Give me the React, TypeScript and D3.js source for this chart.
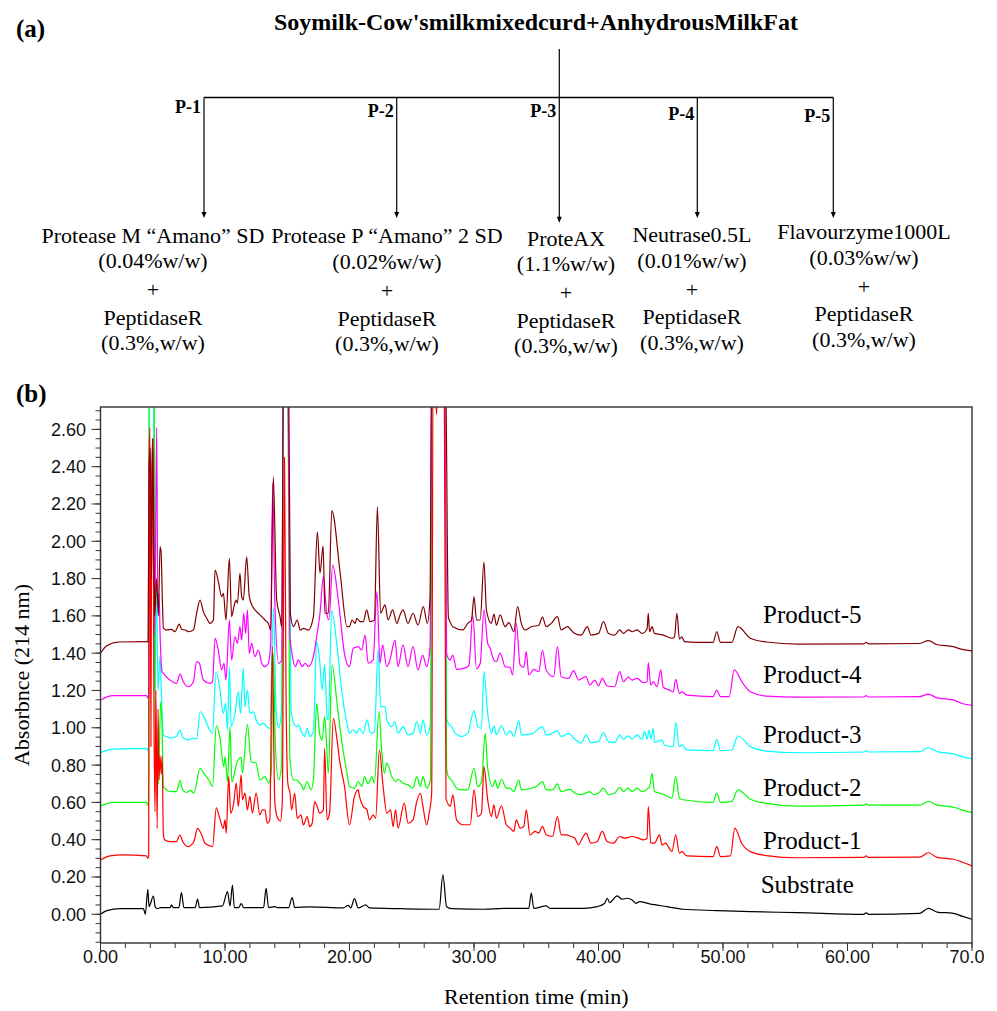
import React from 'react';
import * as d3 from 'd3';

type Pt = [number, number];

// ---- Chromatogram data (retention time in min, absorbance at 214 nm) ----
const substrate: Pt[] = [
  [0, 0.0], [0.5, 0.02], [1.6, 0.03], [3.45, 0.03], [3.6, 0.0], [3.8, 0.134], [3.9, 0.041], [4.0, 0.055], [4.25, 0.098],
  [4.4, 0.038], [4.6, 0.03], [4.8, 0.036], [5.6, 0.036], [5.7, 0.05], [5.85, 0.036], [6.3, 0.036], [6.5, 0.116], [6.7, 0.036],
  [7.6, 0.036], [7.8, 0.081], [7.95, 0.036], [9.8, 0.045], [10.2, 0.122], [10.4, 0.045], [10.6, 0.157], [10.75, 0.036],
  [11.1, 0.036], [11.3, 0.057], [11.5, 0.036], [13.1, 0.036], [13.3, 0.14], [13.5, 0.036], [14.0, 0.041], [14.2, 0.036],
  [15.1, 0.036], [15.4, 0.09], [15.6, 0.036], [16.8, 0.04], [19.5, 0.034], [19.9, 0.048], [20.1, 0.034], [20.4, 0.084],
  [20.7, 0.034], [21.3, 0.05], [21.6, 0.034], [24.1, 0.03], [27.2, 0.027], [27.5, 0.211], [27.8, 0.04], [28.2, 0.03],
  [30.8, 0.027], [32.4, 0.032], [34.4, 0.032], [34.6, 0.113], [34.8, 0.032], [35.8, 0.045], [36.1, 0.032], [38.8, 0.032],
  [39.9, 0.041], [40.5, 0.059], [40.7, 0.086], [40.9, 0.063], [41.5, 0.099], [41.9, 0.081], [42.3, 0.086], [42.7, 0.077],
  [43.0, 0.059], [43.3, 0.068], [44.1, 0.056], [45.5, 0.041], [46.8, 0.027], [49.5, 0.02], [52.2, 0.014], [56, 0.009],
  [61.3, 0.0], [61.5, 0.008], [61.7, 0.0], [65.8, 0.005], [66.5, 0.032], [67.2, 0.012], [68.5, 0.005], [69.2, -0.01], [70, -0.027],
];

const product1: Pt[] = [
  [0, 0.291], [0.75, 0.313], [1.8, 0.318], [3.7, 0.313], [3.8, 0.3], [3.87, 0.31], [3.92, 2.5], [3.97, 2.61], [4.05, 0.9],
  [4.12, 2.4], [4.2, 2.55], [4.3, 1.0], [4.38, 0.55], [4.45, 1.2], [4.55, 0.46], [4.62, 1.1], [4.7, 0.72], [4.78, 0.85],
  [4.88, 0.75], [4.95, 0.85], [5.05, 0.43], [5.15, 0.4], [5.58, 0.39], [6.1, 0.39], [6.38, 0.425], [6.6, 0.39], [7.05, 0.363],
  [7.3, 0.372], [7.5, 0.39], [7.8, 0.461], [8.07, 0.434], [8.4, 0.381], [9.0, 0.363], [9.3, 0.57], [9.54, 0.524], [9.86, 0.461],
  [10.0, 0.506], [10.1, 0.434], [10.3, 0.739], [10.45, 0.542], [10.7, 0.596], [10.9, 0.703], [11.07, 0.578], [11.3, 0.748],
  [11.4, 0.614], [11.6, 0.65], [11.8, 0.56], [12.0, 0.632], [12.2, 0.542], [12.5, 0.65], [12.8, 0.533], [13.0, 0.56],
  [13.2, 0.56], [13.4, 0.488], [13.6, 0.506], [13.8, 1.435], [14.0, 0.6], [14.2, 0.52], [14.45, 0.5], [14.6, 0.6],
  [14.78, 2.45], [14.9, 1.2], [15.05, 0.7], [15.22, 0.649], [15.35, 0.56], [15.6, 0.649], [15.8, 0.515], [16.1, 0.533],
  [16.3, 0.479], [16.6, 0.524], [16.8, 0.47], [17.0, 0.488], [17.2, 0.604], [17.4, 0.578], [17.6, 0.542], [17.9, 0.56],
  [18.0, 0.89], [18.2, 0.506], [18.4, 0.542], [18.7, 1.05], [19.0, 0.935], [19.2, 0.828], [19.6, 0.685], [20.0, 0.479],
  [20.4, 0.632], [20.7, 0.667], [20.8, 0.632], [21.1, 0.578], [21.4, 0.56], [21.6, 0.506], [21.9, 0.533], [22.1, 0.515],
  [22.4, 0.881], [22.7, 0.685], [23.0, 0.542], [23.3, 0.56], [23.5, 0.47], [23.7, 0.56], [23.9, 0.462], [24.4, 0.596],
  [24.7, 0.488], [25.1, 0.506], [25.4, 0.604], [25.7, 0.649], [25.9, 0.578], [26.2, 0.479], [26.4, 0.542], [26.6, 0.649],
  [26.72, 3.0], [27.0, 2.68], [27.1, 3.0], [27.6, 3.0], [27.75, 0.62], [28.1, 0.58], [28.3, 0.64], [28.6, 0.506],
  [29.1, 0.48], [29.7, 0.48], [30.0, 0.667], [30.3, 0.524], [30.6, 0.542], [30.8, 0.792], [31.1, 0.613], [31.4, 0.524],
  [31.6, 0.587], [31.8, 0.515], [32.2, 0.581], [32.6, 0.48], [32.9, 0.462], [33.2, 0.444], [33.4, 0.506], [33.7, 0.462],
  [34.0, 0.471], [34.2, 0.56], [34.5, 0.426], [34.9, 0.444], [35.2, 0.435], [35.5, 0.471], [35.8, 0.426], [36.3, 0.417],
  [36.7, 0.524], [37.0, 0.426], [37.4, 0.426], [37.8, 0.417], [38.1, 0.408], [38.4, 0.372], [38.7, 0.408], [39.0, 0.435],
  [39.4, 0.381], [39.9, 0.39], [40.3, 0.444], [40.7, 0.39], [41.2, 0.381], [41.7, 0.417], [42.1, 0.408], [42.7, 0.417],
  [43.2, 0.408], [43.6, 0.399], [43.9, 0.408], [44.0, 0.578], [44.2, 0.381], [44.5, 0.381], [44.9, 0.426], [45.1, 0.372],
  [45.4, 0.381], [45.6, 0.363], [45.9, 0.336], [46.2, 0.426], [46.5, 0.328], [46.7, 0.336], [47.1, 0.313], [49.2, 0.309],
  [49.5, 0.363], [49.8, 0.309], [50.6, 0.313], [50.95, 0.462], [51.5, 0.381], [52.2, 0.336], [53.5, 0.315], [56, 0.303],
  [61.3, 0.305], [61.5, 0.313], [61.7, 0.305], [65.8, 0.306], [66.5, 0.33], [67.2, 0.305], [68.5, 0.295], [69.2, 0.28], [70, 0.259],
];

const product2: Pt[] = [
  [0, 0.581], [1.0, 0.6], [3.7, 0.6], [3.8, 0.585], [3.87, 0.6], [3.92, 3.0], [4.3, 3.0], [4.4, 1.0], [4.5, 0.75],
  [4.65, 0.7], [4.83, 1.14], [4.94, 1.02], [5.05, 0.685], [5.3, 0.667], [5.7, 0.658], [6.1, 0.658], [6.38, 0.717],
  [6.6, 0.667], [6.9, 0.653], [7.2, 0.664], [7.5, 0.65], [8.0, 0.783], [8.3, 0.756], [8.7, 0.72], [9.0, 0.685],
  [9.3, 1.01], [9.6, 0.944], [9.9, 0.792], [10.0, 0.846], [10.2, 0.712], [10.4, 1.006], [10.55, 0.71], [10.95, 0.813],
  [11.3, 0.841], [11.4, 0.756], [11.8, 1.018], [12.1, 0.818], [12.5, 0.81], [12.8, 0.72], [13.2, 0.738], [13.5, 0.703],
  [13.7, 0.75], [13.88, 1.4], [14.05, 0.9], [14.3, 0.72], [14.55, 0.8], [14.7, 3.0], [15.05, 3.0], [15.2, 0.85],
  [15.5, 0.72], [15.75, 0.72], [16.0, 0.703], [16.2, 0.685], [16.3, 0.667], [16.6, 0.712], [16.9, 0.667], [17.1, 0.72],
  [17.36, 1.131], [17.6, 0.97], [17.8, 0.935], [18.0, 1.06], [18.2, 0.855], [18.3, 0.756], [18.6, 1.336], [19.0, 1.131],
  [19.4, 0.917], [19.8, 0.756], [20.0, 0.685], [20.4, 0.676], [20.7, 0.712], [21.0, 0.685], [21.2, 0.738], [21.5, 0.699],
  [21.8, 0.738], [22.0, 0.703], [22.37, 1.088], [22.6, 0.864], [22.8, 0.756], [23.0, 0.81], [23.4, 0.738], [23.7, 0.712],
  [23.9, 0.724], [24.3, 0.703], [24.7, 0.694], [25.1, 0.676], [25.4, 0.738], [25.7, 0.685], [25.9, 0.738], [26.2, 0.676],
  [26.5, 0.72], [26.65, 3.0], [27.65, 3.0], [27.8, 0.78], [27.94, 0.738], [28.2, 0.72], [28.5, 0.685], [28.9, 0.667],
  [29.5, 0.667], [30.0, 0.783], [30.3, 0.685], [30.6, 0.711], [30.9, 0.97], [31.1, 0.783], [31.5, 0.685], [31.7, 0.72],
  [31.9, 0.676], [32.2, 0.724], [32.6, 0.676], [32.9, 0.676], [33.2, 0.658], [33.6, 0.72], [33.8, 0.667], [34.6, 0.676],
  [35.0, 0.685], [35.5, 0.711], [35.8, 0.667], [36.3, 0.667], [36.7, 0.699], [37.0, 0.658], [37.7, 0.67], [38.1, 0.65],
  [38.6, 0.641], [39.3, 0.658], [39.6, 0.641], [40.0, 0.65], [40.4, 0.676], [40.8, 0.641], [41.3, 0.65], [41.7, 0.681],
  [42.0, 0.658], [42.4, 0.676], [42.7, 0.658], [43.1, 0.676], [43.5, 0.658], [43.9, 0.67], [44.1, 0.685], [44.3, 0.756],
  [44.5, 0.658], [44.9, 0.65], [45.3, 0.641], [45.9, 0.623], [46.2, 0.738], [46.5, 0.623], [46.8, 0.614], [49.2, 0.6],
  [49.5, 0.65], [49.8, 0.6], [50.7, 0.605], [51.2, 0.667], [52.2, 0.617], [53.5, 0.595], [56, 0.58], [61.3, 0.585],
  [61.5, 0.592], [61.7, 0.585], [65.8, 0.585], [66.5, 0.606], [67.2, 0.585], [68.5, 0.575], [69.2, 0.56], [70, 0.545],
];

const product3: Pt[] = [
  [0, 0.867], [1.0, 0.886], [3.7, 0.89], [3.8, 0.88], [3.86, 0.89], [3.9, 3.0], [4.25, 3.0], [4.35, 1.2], [4.5, 1.78],
  [4.62, 1.2], [4.78, 1.38], [4.9, 1.17], [5.05, 0.962], [5.3, 0.953], [5.7, 0.944], [6.1, 0.953], [6.38, 0.988],
  [6.6, 0.95], [7.05, 0.935], [7.45, 0.944], [7.72, 0.939], [8.0, 1.086], [8.3, 1.06], [8.7, 0.997], [9.0, 0.97],
  [9.28, 1.301], [9.6, 1.202], [9.86, 1.077], [10.05, 1.131], [10.2, 0.988], [10.35, 1.328], [10.5, 1.006], [10.8, 1.077],
  [11.07, 1.193], [11.25, 1.077], [11.47, 1.319], [11.6, 1.113], [11.8, 1.202], [12.0, 1.077], [12.3, 1.086], [12.5, 1.042],
  [12.8, 1.015], [13.08, 1.024], [13.35, 1.006], [13.6, 0.997], [13.9, 1.644], [14.1, 1.1], [14.3, 1.0], [14.55, 1.1],
  [14.7, 3.0], [15.05, 3.0], [15.3, 1.1], [15.55, 1.02], [15.75, 1.006], [15.9, 1.015], [16.2, 0.97], [16.4, 0.953],
  [16.6, 0.997], [16.8, 0.953], [17.1, 0.979], [17.36, 1.462], [17.6, 1.363], [17.8, 1.202], [18.0, 1.337], [18.2, 1.06],
  [18.3, 1.042], [18.57, 1.628], [19.0, 1.435], [19.4, 1.184], [19.8, 1.024], [20.0, 0.97], [20.3, 0.988], [20.6, 0.97],
  [20.8, 0.997], [21.1, 0.97], [21.4, 1.042], [21.7, 0.97], [22.0, 0.979], [22.3, 1.42], [22.5, 1.113], [22.85, 1.113],
  [23.0, 1.042], [23.4, 1.006], [23.65, 1.033], [23.9, 0.97], [24.3, 1.006], [24.7, 0.962], [25.1, 0.97], [25.4, 1.033],
  [25.7, 0.97], [25.9, 1.042], [26.2, 0.962], [26.5, 1.024], [26.65, 3.0], [27.65, 3.0], [27.8, 1.05], [27.94, 1.024],
  [28.2, 1.006], [28.5, 0.97], [29.0, 0.953], [29.5, 0.97], [30.0, 1.092], [30.3, 1.006], [30.6, 0.997], [30.8, 1.301],
  [31.1, 1.077], [31.4, 0.97], [31.6, 1.01], [31.8, 0.962], [32.2, 1.01], [32.6, 0.962], [32.9, 0.985], [33.2, 0.953],
  [33.6, 1.039], [33.8, 0.962], [34.6, 0.967], [35.5, 1.006], [35.8, 0.962], [36.2, 0.967], [36.7, 0.985], [37.0, 0.953],
  [37.6, 0.97], [38.1, 0.939], [38.6, 0.917], [39.0, 0.962], [39.4, 0.92], [40.0, 0.926], [40.4, 0.974], [40.8, 0.926],
  [41.3, 0.92], [41.7, 0.962], [42.0, 0.939], [42.4, 0.957], [42.7, 0.939], [43.1, 0.962], [43.5, 0.939], [43.7, 0.979],
  [43.9, 0.939], [44.05, 0.988], [44.2, 0.939], [44.4, 0.997], [44.5, 0.92], [45.1, 0.935], [45.3, 0.908], [46.0, 0.899],
  [46.2, 1.028], [46.5, 0.899], [46.7, 0.908], [47.1, 0.881], [49.2, 0.877], [49.5, 0.938], [49.8, 0.877], [50.7, 0.881],
  [51.2, 0.956], [52.2, 0.899], [53.5, 0.875], [56, 0.866], [61.3, 0.87], [61.5, 0.877], [61.7, 0.87], [65.8, 0.872],
  [66.5, 0.893], [67.2, 0.872], [68.5, 0.86], [69.2, 0.845], [70, 0.833],
];

const product4: Pt[] = [
  [0, 1.149], [1.0, 1.172], [3.7, 1.172], [3.8, 1.16], [3.86, 1.17], [3.92, 2.5], [4.05, 2.0], [4.2, 2.4], [4.35, 1.5],
  [4.51, 2.61], [4.6, 1.7], [4.7, 1.72], [4.8, 1.47], [4.95, 1.3], [5.05, 1.292], [5.58, 1.256], [6.12, 1.238],
  [6.39, 1.288], [6.65, 1.247], [7.06, 1.22], [7.46, 1.247], [7.72, 1.355], [7.94, 1.346], [8.26, 1.256], [8.8, 1.238],
  [9.0, 1.247], [9.2, 1.479], [9.46, 1.417], [9.73, 1.31], [9.92, 1.346], [10.08, 1.256], [10.35, 1.578], [10.53, 1.364],
  [10.8, 1.488], [11.0, 1.453], [11.2, 1.542], [11.34, 1.47], [11.5, 1.614], [11.66, 1.506], [11.8, 1.632], [11.95, 1.399],
  [12.14, 1.453], [12.4, 1.381], [12.68, 1.417], [12.95, 1.346], [13.2, 1.328], [13.48, 1.346], [13.67, 1.453], [13.83, 2.31],
  [14.0, 1.685], [14.3, 1.346], [14.56, 1.364], [14.7, 3.0], [15.05, 3.0], [15.2, 1.5], [15.38, 1.399], [15.65, 1.328],
  [15.9, 1.364], [16.2, 1.328], [16.45, 1.346], [16.7, 1.328], [17.1, 1.381], [17.36, 1.488], [17.63, 1.614], [17.9, 1.81],
  [18.17, 1.614], [18.35, 1.578], [18.65, 1.872], [19.1, 1.685], [19.64, 1.381], [19.99, 1.328], [20.3, 1.426], [20.7, 1.435],
  [20.98, 1.417], [21.25, 1.497], [21.5, 1.346], [21.9, 1.364], [22.2, 1.73], [22.45, 1.346], [22.66, 1.444], [22.99, 1.328],
  [23.25, 1.364], [23.65, 1.47], [23.9, 1.328], [24.3, 1.444], [24.7, 1.328], [25.1, 1.435], [25.5, 1.31], [25.88, 1.39],
  [26.2, 1.328], [26.47, 1.435], [26.62, 3.0], [27.65, 3.0], [27.8, 1.399], [28.07, 1.363], [28.3, 1.39], [28.6, 1.313],
  [29.4, 1.324], [29.6, 1.337], [29.9, 1.605], [30.2, 1.317], [30.5, 1.346], [30.8, 1.632], [31.1, 1.453], [31.3, 1.426],
  [31.6, 1.363], [31.8, 1.355], [32.1, 1.4], [32.5, 1.328], [32.9, 1.324], [33.1, 1.283], [33.4, 1.56], [33.7, 1.337],
  [34.0, 1.324], [34.2, 1.408], [34.4, 1.283], [34.8, 1.313], [35.2, 1.301], [35.5, 1.417], [35.8, 1.31], [36.4, 1.274],
  [36.7, 1.435], [37.0, 1.274], [37.6, 1.265], [38.0, 1.306], [38.4, 1.256], [39.0, 1.274], [39.3, 1.229], [39.7, 1.256],
  [40.0, 1.224], [40.3, 1.265], [40.7, 1.224], [41.3, 1.22], [41.7, 1.301], [42.0, 1.247], [42.4, 1.272], [42.7, 1.256],
  [43.1, 1.265], [43.6, 1.242], [43.9, 1.247], [44.0, 1.35], [44.2, 1.229], [44.4, 1.247], [44.7, 1.22], [45.0, 1.31],
  [45.2, 1.217], [45.7, 1.202], [46.0, 1.193], [46.2, 1.26], [46.5, 1.183], [46.7, 1.193], [47.1, 1.175], [49.2, 1.167],
  [49.5, 1.202], [49.8, 1.167], [50.5, 1.167], [50.9, 1.31], [51.6, 1.238], [52.2, 1.193], [53.5, 1.17], [56, 1.164],
  [61.3, 1.165], [61.5, 1.172], [61.7, 1.165], [65.8, 1.167], [66.5, 1.18], [67.2, 1.16], [68.5, 1.15], [69.2, 1.13], [70, 1.12],
];

const product5: Pt[] = [
  [0, 1.4], [0.5, 1.44], [1.5, 1.46], [3.7, 1.462], [3.82, 1.46], [3.9, 2.4], [4.0, 2.5], [4.1, 1.8], [4.2, 2.55],
  [4.35, 1.6], [4.5, 1.8], [4.65, 1.6], [4.78, 1.97], [4.86, 1.95], [4.97, 1.685], [5.05, 1.534], [5.3, 1.524], [5.7, 1.528],
  [5.98, 1.515], [6.33, 1.556], [6.52, 1.528], [6.79, 1.524], [7.06, 1.515], [7.46, 1.524], [7.72, 1.614], [8.0, 1.685],
  [8.26, 1.623], [8.53, 1.587], [8.8, 1.56], [9.07, 1.578], [9.2, 1.846], [9.47, 1.783], [9.73, 1.703], [9.87, 1.721],
  [10.08, 1.578], [10.35, 1.908], [10.53, 1.596], [10.72, 1.65], [10.88, 1.685], [11.0, 1.668], [11.2, 1.828], [11.34, 1.703],
  [11.47, 1.685], [11.74, 1.917], [11.95, 1.703], [12.22, 1.65], [12.4, 1.632], [12.68, 1.614], [12.95, 1.596], [13.2, 1.578],
  [13.48, 1.56], [13.67, 1.524], [13.88, 2.346], [14.15, 1.685], [14.42, 1.596], [14.56, 1.542], [14.7, 3.0], [15.1, 3.0],
  [15.25, 1.614], [15.5, 1.542], [15.8, 1.578], [16.05, 1.524], [16.3, 1.533], [16.7, 1.524], [17.1, 1.596], [17.42, 2.05],
  [17.63, 1.83], [17.88, 1.975], [18.03, 1.614], [18.3, 1.614], [18.58, 2.164], [19.25, 1.83], [19.8, 1.542], [19.99, 1.542],
  [20.2, 1.578], [20.45, 1.56], [20.6, 1.587], [20.85, 1.569], [21.1, 1.569], [21.38, 1.632], [21.65, 1.569], [22.0, 1.578],
  [22.24, 2.185], [22.5, 1.614], [22.85, 1.659], [23.1, 1.578], [23.47, 1.632], [23.8, 1.56], [24.06, 1.605], [24.3, 1.632],
  [24.7, 1.56], [25.1, 1.614], [25.5, 1.551], [25.93, 1.65], [26.25, 1.56], [26.47, 1.703], [26.6, 3.0], [27.7, 3.0],
  [27.94, 1.596], [28.07, 1.569], [28.3, 1.542], [29.1, 1.525], [29.5, 1.56], [29.8, 1.578], [30.0, 1.703], [30.2, 1.578],
  [30.5, 1.578], [30.8, 1.889], [31.0, 1.63], [31.4, 1.56], [31.6, 1.61], [31.8, 1.55], [32.1, 1.605], [32.5, 1.542],
  [32.8, 1.564], [33.2, 1.515], [33.5, 1.65], [33.8, 1.56], [34.1, 1.525], [34.6, 1.542], [35.2, 1.55], [35.5, 1.593],
  [35.8, 1.542], [36.2, 1.56], [36.7, 1.596], [37.0, 1.525], [37.5, 1.542], [38.0, 1.51], [38.6, 1.497], [39.1, 1.542],
  [39.4, 1.497], [40.0, 1.506], [40.4, 1.569], [40.8, 1.506], [41.3, 1.497], [41.7, 1.525], [42.0, 1.506], [42.4, 1.525],
  [42.7, 1.515], [43.1, 1.525], [43.5, 1.506], [43.9, 1.53], [44.0, 1.614], [44.1, 1.515], [44.3, 1.542], [44.5, 1.506],
  [45.2, 1.497], [45.9, 1.48], [46.1, 1.488], [46.3, 1.614], [46.5, 1.475], [46.7, 1.488], [46.9, 1.462], [47.9, 1.458],
  [49.2, 1.458], [49.5, 1.515], [49.8, 1.458], [50.7, 1.458], [51.2, 1.542], [52.2, 1.48], [53.5, 1.46], [56, 1.449],
  [61.3, 1.45], [61.5, 1.458], [61.7, 1.45], [65.8, 1.452], [66.5, 1.467], [67.2, 1.445], [68.5, 1.435], [69.2, 1.42], [70, 1.412],
];

const SERIES_NAMES = ['Substrate', 'Product-1', 'Product-2', 'Product-3', 'Product-4', 'Product-5'];
const SERIES_DATA = [substrate, product1, product2, product3, product4, product5];
const SERIES_COLORS = ['#000000', '#ff0000', '#00ff00', '#00ffff', '#ff00ff', '#800000'];
const DRAW_ORDER = [0, 3, 2, 4, 1, 5];

const X_MAJOR = [0, 10, 20, 30, 40, 50, 60, 70];
const X_LABELS = ['0.00', '10.00', '20.00', '30.00', '40.00', '50.00', '60.00', '70.00'];
const Y_MAJOR = [0, 0.2, 0.4, 0.6, 0.8, 1.0, 1.2, 1.4, 1.6, 1.8, 2.0, 2.2, 2.4, 2.6];
const Y_LABELS = ['0.00', '0.20', '0.40', '0.60', '0.80', '1.00', '1.20', '1.40', '1.60', '1.80', '2.00', '2.20', '2.40', '2.60'];

// ---- Flow diagram text ----
const TITLE = "Soymilk-Cow'smilkmixedcurd+AnhydrousMilkFat";
const BRANCH_LABELS = ['P-1', 'P-2', 'P-3', 'P-4', 'P-5'];
const BRANCH_TEXT = [
  ['Protease M \u201cAmano\u201d SD', '(0.04%w/w)', '+', 'PeptidaseR', '(0.3%,w/w)'],
  ['Protease P \u201cAmano\u201d 2 SD', '(0.02%w/w)', '+', 'PeptidaseR', '(0.3%,w/w)'],
  ['ProteAX', '(1.1%w/w)', '+', 'PeptidaseR', '(0.3%,w/w)'],
  ['Neutrase0.5L', '(0.01%w/w)', '+', 'PeptidaseR', '(0.3%,w/w)'],
  ['Flavourzyme1000L', '(0.03%w/w)', '+', 'PeptidaseR', '(0.3%,w/w)'],
];

const SERIF = "'Liberation Serif', 'Times New Roman', Times, serif";
const SANS = "'Liberation Sans', Arial, Helvetica, sans-serif";

export default function App() {
  const W = 997, H = 1011;
  const left = 100.5, right = 972, top = 407, bottom = 943;
  const x = d3.scaleLinear().domain([0, 70]).range([left, right]);
  const y = d3.scaleLinear().domain([-0.154, 2.72]).range([bottom, top]);
  const line = d3.line<Pt>().x(d => x(d[0])).y(d => y(d[1])).curve(d3.curveMonotoneX);

  const yMinor = d3.range(-0.15, 2.7001, 0.05);
  const xMinor = d3.range(0, 70.001, 2);

  // diagram geometry
  const hY = 97.5;
  const arrowX = [204, 396.7, 559.3, 697.3, 833.3];
  const arrowEnd = [218, 218, 222.7, 218, 218];
  const labelBase = [113, 116.7, 116.7, 120, 121.7];
  const textCx = [153, 387, 566, 692, 864];
  const lineBase = [
    [242.7, 268, 297, 325, 350],
    [242.7, 268.5, 297.5, 325.5, 351],
    [246, 271, 300, 328, 353],
    [241.7, 268, 297, 324, 350],
    [239.3, 265, 294, 321, 347],
  ];

  const seriesLabelPos: [number, number][] = [
    [760.7, 893.3], [763, 849.3], [763, 796], [763, 742.7], [763, 683.3], [763, 623],
  ];

  return (
    <svg width={W} height={H} viewBox={`0 0 ${W} ${H}`}
      style={{ position: 'absolute', left: 0, top: 0, display: 'block', background: '#fff' }}>
      <defs>
        <clipPath id="plotClip">
          <rect x={left} y={top} width={right - left} height={bottom - top} />
        </clipPath>
        <clipPath id="xlabClip">
          <rect x={0} y={940} width={984} height={40} />
        </clipPath>
      </defs>
      <rect x={0} y={0} width={W} height={H} fill="#fff" />

      {/* (a) flow diagram */}
      <text x={16} y={37} fontFamily={SERIF} fontWeight="bold" fontSize={25}>(a)</text>
      <text x={536} y={30} fontFamily={SERIF} fontWeight="bold" fontSize={24} textAnchor="middle">{TITLE}</text>
      <line x1={559.3} y1={49} x2={559.3} y2={hY} stroke="#000" strokeWidth={1.2} />
      <line x1={arrowX[0]} y1={hY} x2={arrowX[4]} y2={hY} stroke="#000" strokeWidth={1.3} />
      {arrowX.map((ax, i) => (
        <g key={'br' + i}>
          <line x1={ax} y1={hY} x2={ax} y2={arrowEnd[i] - 4} stroke="#000" strokeWidth={1.2} />
          <polygon points={`${ax - 2.5},${arrowEnd[i] - 6} ${ax + 2.5},${arrowEnd[i] - 6} ${ax},${arrowEnd[i]}`} fill="#000" />
          <text x={ax - 3} y={labelBase[i]} textAnchor="end" fontFamily={SERIF} fontWeight="bold" fontSize={18}>{BRANCH_LABELS[i]}</text>
          {BRANCH_TEXT[i].map((t, j) => (
            <text key={j} x={textCx[i]} y={lineBase[i][j]} textAnchor="middle" fontFamily={SERIF} fontSize={22}>{t}</text>
          ))}
        </g>
      ))}

      {/* (b) chromatogram */}
      <text x={16} y={401.7} fontFamily={SERIF} fontWeight="bold" fontSize={25}>(b)</text>

      <g clipPath="url(#plotClip)">
        {DRAW_ORDER.map(i => (
          <path key={SERIES_NAMES[i]} d={line(SERIES_DATA[i]) || ''} fill="none" stroke={SERIES_COLORS[i]}
            strokeWidth={1.2} strokeLinejoin="round" />
        ))}
      </g>

      {/* frame */}
      <rect x={left} y={top} width={right - left} height={bottom - top} fill="none" stroke="#333" strokeWidth={1.4} />

      {/* y ticks */}
      {yMinor.map((v, i) => (
        <line key={'ym' + i} x1={left - 5} x2={left} y1={y(v)} y2={y(v)} stroke="#333" strokeWidth={1} />
      ))}
      {Y_MAJOR.map((v, i) => (
        <g key={'yM' + i}>
          <line x1={left - 9} x2={left} y1={y(v)} y2={y(v)} stroke="#333" strokeWidth={1} />
          <text x={86} y={y(v)} dy="0.36em" textAnchor="end" fontFamily={SANS} fontSize={18} fill="#111">{Y_LABELS[i]}</text>
        </g>
      ))}

      {/* x ticks */}
      {xMinor.map((v, i) => (
        <line key={'xm' + i} x1={x(v)} x2={x(v)} y1={bottom} y2={bottom + 5} stroke="#333" strokeWidth={1} />
      ))}
      <g clipPath="url(#xlabClip)">
        {X_MAJOR.map((v, i) => (
          <g key={'xM' + i}>
            <line x1={x(v)} x2={x(v)} y1={bottom} y2={bottom + 8} stroke="#333" strokeWidth={1} />
            <text x={x(v)} y={963} textAnchor="middle" fontFamily={SANS} fontSize={18} fill="#111">{X_LABELS[i]}</text>
          </g>
        ))}
      </g>

      {/* axis titles */}
      <text transform={`translate(29, ${(top + bottom) / 2}) rotate(-90)`} textAnchor="middle" fontFamily={SERIF} fontSize={22}>Absorbnce (214 nm)</text>
      <text x={(left + right) / 2} y={1004} textAnchor="middle" fontFamily={SERIF} fontSize={22}>Retention time (min)</text>

      {/* series labels */}
      {SERIES_NAMES.map((n, i) => (
        <text key={'lab' + n} x={seriesLabelPos[i][0]} y={seriesLabelPos[i][1]} fontFamily={SERIF} fontSize={25}>{n}</text>
      ))}
    </svg>
  );
}
